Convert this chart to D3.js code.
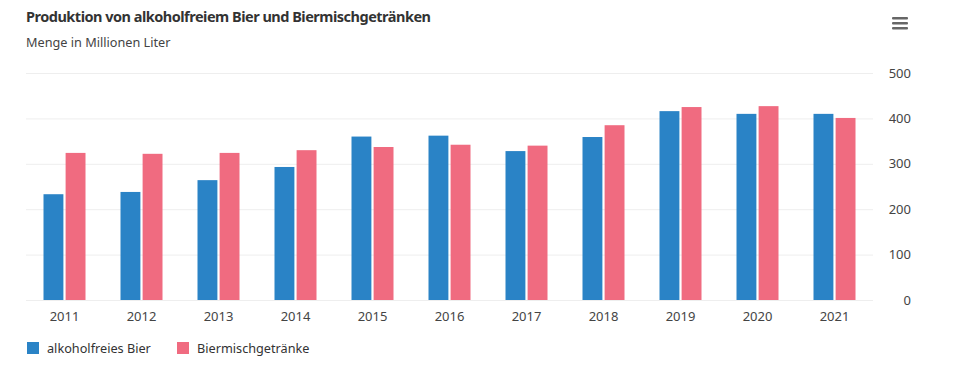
<!DOCTYPE html>
<html>
<head>
<meta charset="utf-8">
<script src="https://cdn.jsdelivr.net/npm/d3@7"></script>
<style>
  body { margin: 0; background: #fff; }
  svg { font-family: "Noto Sans", sans-serif; }
</style>
</head>
<body>
<svg id="svg1" width="980" height="372"></svg>
<script>
var years = ['2011','2012','2013','2014','2015','2016','2017','2018','2019','2020','2021'];
var seriesNames = ['alkoholfreies Bier', 'Biermischgetränke'];
var alkoholfrei = [233, 238, 264, 293, 360, 362, 328, 359, 416, 410, 410];
var biermisch = [324, 322, 324, 330, 337, 342, 340, 385, 425, 427, 401];
var yTicks = [0, 100, 200, 300, 400, 500];
var colors = ['#2a83c6', '#f06b80'];

var svg = d3.select('svg');

var marginLeft = 26;
var plotRight = 873;
var plotTop = 73;
var plotBottom = 300;

// scales
var x = d3.scaleBand()
    .domain(years)
    .range([marginLeft, plotRight]);

var xInner = d3.scaleBand()
    .domain(seriesNames)
    .range([0, 42])
    .paddingInner(0.1);

var y = d3.scaleLinear()
    .domain([0, 500])
    .range([plotBottom, plotTop]);

// title
svg.append('text')
    .attr('x', 26).attr('y', 22)
    .attr('font-size', 14.5).attr('font-weight', 'bold')
    .attr('fill', '#333')
    .attr('textLength', 405)
    .text('Produktion von alkoholfreiem Bier und Biermischgetränken');

svg.append('text')
    .attr('x', 26).attr('y', 47)
    .attr('font-size', 12.7).attr('fill', '#444')
    .text('Menge in Millionen Liter');

// gridlines + right axis labels
var yAxis = d3.axisRight(y)
    .tickValues(yTicks)
    .tickSize(-(plotRight - marginLeft))
    .tickPadding(0);

var gy = svg.append('g')
    .attr('transform', 'translate(' + plotRight + ',0)')
    .call(yAxis)
    .attr('font-family', null);
gy.select('.domain').remove();
gy.selectAll('line').attr('stroke', '#eeeeee');
gy.selectAll('text')
    .attr('x', 38)
    .attr('text-anchor', 'end')
    .attr('font-size', 13)
    .attr('fill', '#444');

// x axis labels
var gx = svg.append('g')
    .attr('transform', 'translate(0,' + plotBottom + ')')
    .call(d3.axisBottom(x).tickSize(0).tickPadding(12))
    .attr('font-family', null);
gx.select('.domain').remove();
gx.selectAll('text')
    .attr('font-size', 13)
    .attr('fill', '#444');

// bars
var series = [alkoholfrei, biermisch];
series.forEach(function(vals, i){
    svg.append('g')
        .selectAll('rect')
        .data(vals)
        .enter()
        .append('rect')
        .attr('x', function(d, j){ return x(years[j]) + x.bandwidth()/2 - 21 + xInner(seriesNames[i]); })
        .attr('width', xInner.bandwidth())
        .attr('y', function(d){ return y(d); })
        .attr('height', function(d){ return y(0) - y(d); })
        .attr('fill', colors[i]);
});

// legend
var legend = svg.append('g').attr('transform', 'translate(27,342)');
var legX = [0, 150];
seriesNames.forEach(function(name, i){
    var g = legend.append('g').attr('transform', 'translate(' + legX[i] + ',0)');
    g.append('rect')
        .attr('width', 12).attr('height', 12)
        .attr('fill', colors[i]);
    g.append('text')
        .attr('x', 20).attr('y', 11)
        .attr('font-size', 12.7).attr('fill', '#333')
        .text(name);
});

// menu icon
var menu = svg.append('g').attr('transform', 'translate(892,17)');
[0, 5, 10].forEach(function(dy){
    menu.append('rect')
        .attr('x', 0).attr('y', dy)
        .attr('width', 16).attr('height', 2.5)
        .attr('rx', 1)
        .attr('fill', '#666');
});
</script>
</body>
</html>
